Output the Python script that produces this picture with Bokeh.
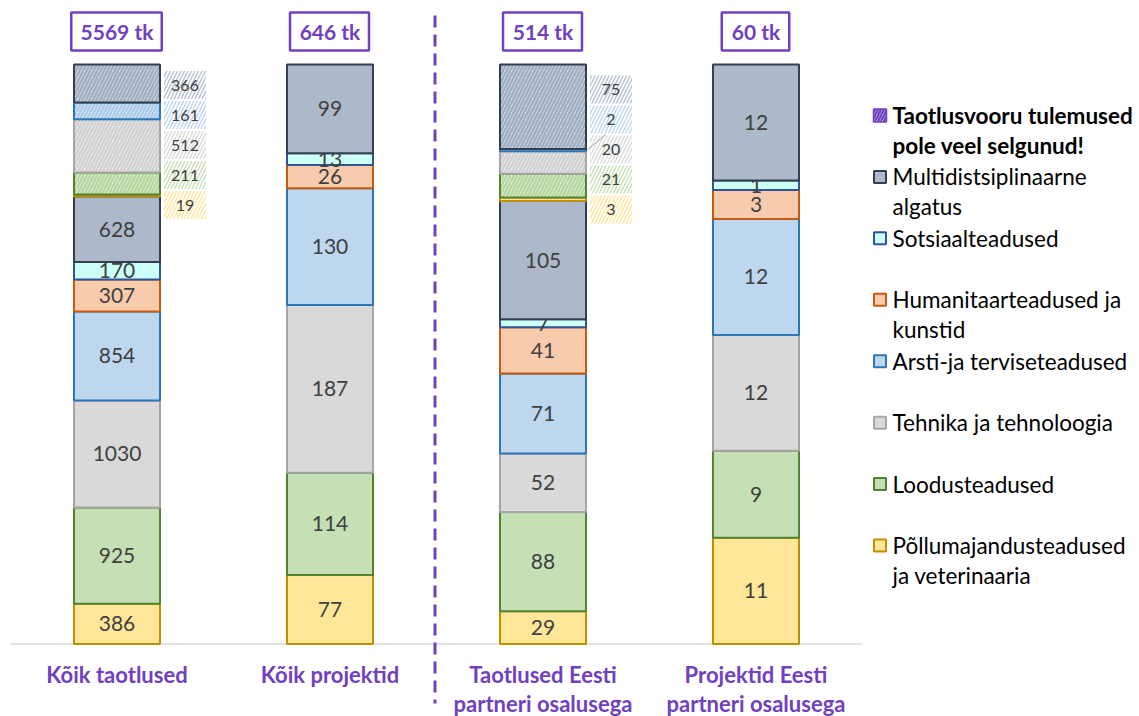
import numpy as np
from bokeh.plotting import figure
from bokeh.models import Range1d
from bokeh.core.properties import value
from bokeh.embed import file_html
from bokeh.resources import INLINE

# ---------------- data ----------------
categories = ["Kõik taotlused", "Kõik projektid",
              "Taotlused Eesti\npartneri osalusega", "Projektid Eesti\npartneri osalusega"]
total_labels = ["5569 tk", "646 tk", "514 tk", "60 tk"]

series_names = ["Põllumajandusteadused\nja veterinaaria", "Loodusteadused",
                "Tehnika ja tehnoloogia", "Arsti-ja terviseteadused",
                "Humanitaarteadused ja\nkunstid", "Sotsiaalteadused",
                "Multidistsiplinaarne\nalgatus"]
pollu = [386, 77, 29, 11]
loodus = [925, 114, 88, 9]
tehnika = [1030, 187, 52, 12]
arsti = [854, 130, 71, 12]
humanitaar = [307, 26, 41, 3]
sotsiaal = [170, 13, 7, 1]
multi = [628, 99, 105, 12]

# results of the call not yet known (hatched)
pending_name = "Taotlusvooru tulemused\npole veel selgunud!"
pollu_pending = [19, 0, 3, 0]
loodus_pending = [211, 0, 21, 0]
tehnika_pending = [512, 0, 20, 0]
arsti_pending = [161, 0, 2, 0]
multi_pending = [366, 0, 75, 0]

# ---------------- styles ----------------
fills = ["#FFE699", "#C5E0B4", "#D9D9D9", "#BDD7EE", "#F8CBAD", "#CCFFF5", "#ADB9CA"]
lines = ["#BF9000", "#548235", "#A6A6A6", "#2E75B6", "#C55A11", "#2F5597", "#333F50"]
hatch_cols = ["#FFDD77", "#B5D79E", "#D0D0D0", "#A9CBEA", "#F4B183", "#99E6D8", "#9FADC1"]
hatch_fills = ["#FFF6DA", "#E8F2E1", "#F0F0F0", "#E4EEF8", "#FCE8DA", "#E6FFFA", "#DDE2EA"]
PURPLE = "#7040C0"
LABEL_COL = "#404040"
FONT = value("Lato")

confirmed = [pollu, loodus, tehnika, arsti, humanitaar, sotsiaal, multi]
pending = [pollu_pending, loodus_pending, tehnika_pending, arsti_pending, multi_pending]
pending_series = [0, 1, 2, 3, 6]

# ---------------- layout ----------------
W, H = 1136, 716
BAR_X0, BAR_STEP = 116.5, 213.0
Y_BASE, Y_TOP = 643.5, 64.0
YS = Y_BASE - Y_TOP
BAR_W = 86 / BAR_STEP


def xd(px):
    return (px - BAR_X0) / BAR_STEP


def yd(py):
    return (Y_BASE - py) / YS


p = figure(width=W, height=H, x_range=Range1d(xd(0), xd(W)),
           y_range=Range1d(yd(H), yd(0)), output_backend="svg",
           toolbar_location=None, min_border=0, x_axis_type=None, y_axis_type=None)
p.grid.visible = False
p.outline_line_color = None
p.background_fill_color = "white"
p.border_fill_color = "white"

n = len(categories)
xs = np.arange(n)
totals = np.sum(confirmed, axis=0) + np.sum(pending, axis=0)

# baseline and separator
p.segment(x0=[xd(10)], y0=[0], x1=[xd(862)], y1=[0], line_color="#D9D9D9", line_width=1.5)
p.segment(x0=[1.5 - 1.5 / BAR_STEP], y0=[yd(15)], x1=[1.5 - 1.5 / BAR_STEP], y1=[yd(703)],
          line_color=PURPLE, line_width=3, line_dash="12 7")

cum = np.zeros(n)
for si, vals in enumerate(confirmed):
    v = np.array(vals, dtype=float)
    b = cum / totals
    t = (cum + v) / totals
    p.vbar(x=xs, width=BAR_W, bottom=b, top=t, fill_color=fills[si],
           line_color=lines[si], line_width=2)
    m = v > 0
    p.text(x=xs[m], y=((b + t) / 2)[m], text=[str(int(a)) for a in v[m]],
           text_font=FONT, text_font_size="21px", text_color=LABEL_COL,
           text_align="center", text_baseline="middle")
    cum = cum + v

conf_top = cum / totals
seg_info = [[] for _ in range(n)]
for pi, vals in enumerate(pending):
    si = pending_series[pi]
    v = np.array(vals, dtype=float)
    b = cum / totals
    t = (cum + v) / totals
    m = v > 0
    p.vbar(x=xs[m], width=BAR_W, bottom=b[m], top=t[m], fill_color=hatch_fills[si],
           hatch_pattern="/", hatch_color=hatch_cols[si], hatch_scale=7, hatch_weight=2.5,
           line_color=lines[si], line_width=2)
    for i in range(n):
        if v[i] > 0:
            seg_info[i].append((si, int(v[i]), (b[i] + t[i]) / 2))
    cum = cum + v

# side labels of the hatched segments
BOX_W, BOX_H = 42, 28
for i in range(n):
    bar_right_px = BAR_X0 + i * BAR_STEP + 43
    bx = xd(bar_right_px + 4 + BOX_W / 2)
    for j, (si, val, yc) in enumerate(seg_info[i]):
        ly = conf_top[i] - (8.5 - 30 * j) / YS
        p.rect(x=[bx], y=[ly], width=BOX_W, height=BOX_H, width_units="screen",
               height_units="screen", fill_color="white", line_color=None,
               hatch_pattern="/", hatch_color=hatch_cols[si], hatch_scale=7,
               hatch_weight=1.3, hatch_alpha=0.8)
        p.text(x=[bx], y=[ly], text=[str(val)], text_font=FONT, text_font_size="16px",
               text_color=LABEL_COL, text_align="center", text_baseline="middle")
        if abs(ly - yc) * YS > 20:
            p.segment(x0=[xd(bar_right_px + 4 + 16)], y0=[ly - 15 / YS],
                      x1=[xd(bar_right_px + 1)], y1=[yc], line_color="#A6A6A6", line_width=1)

# total boxes above bars
for i in range(n):
    txt = total_labels[i]
    bw = 11.5 * len(txt) + 10
    p.rect(x=[xs[i] - 0.5 / BAR_STEP], y=[yd(31)], width=bw, height=38, width_units="screen",
           height_units="screen", fill_color="white", line_color=PURPLE, line_width=2.5)
    p.text(x=[xs[i]], y=[yd(31)], text=[txt], text_font=FONT, text_font_style="bold",
           text_font_size="21px", text_color=PURPLE, text_align="center",
           text_baseline="middle")

# category labels
for i, cat in enumerate(categories):
    for k, line in enumerate(cat.split("\n")):
        p.text(x=[xs[i]], y=[yd(674 + 29 * k)], text=[line], text_font=FONT,
               text_font_style="bold", text_font_size="22px", text_color=PURPLE,
               text_align="center", text_baseline="middle")

# legend (manual)
legend_entries = [(pending_name, None)] + [(series_names[s], s) for s in range(6, -1, -1)]
LEG_Y0, LEG_STEP = 115.0, 61.43
for k, (name, si) in enumerate(legend_entries):
    py = LEG_Y0 + LEG_STEP * k
    if si is None:
        p.rect(x=[xd(879.5)], y=[yd(py)], width=13, height=13, width_units="screen",
               height_units="screen", fill_color="#B9A3E6", line_color=PURPLE, line_width=1.5,
               hatch_pattern="/", hatch_color=PURPLE, hatch_scale=6, hatch_weight=2)
    else:
        p.rect(x=[xd(879.5)], y=[yd(py)], width=12, height=12, width_units="screen",
               height_units="screen", fill_color=fills[si], line_color=lines[si], line_width=2)
    for li, line in enumerate(name.split("\n")):
        p.text(x=[xd(892)], y=[yd(py + 29.5 * li)], text=[line], text_font=FONT,
               text_font_style="bold" if si is None else "normal", text_font_size="22.5px",
               text_color="black", text_align="left", text_baseline="middle")

open("out.html", "w").write(file_html(p, INLINE))
